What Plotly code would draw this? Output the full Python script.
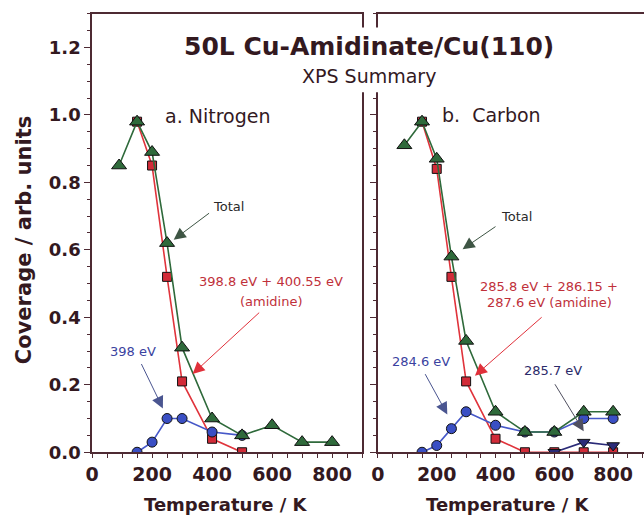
import plotly.graph_objects as go

W, H = 644, 527

# ---------------- data ----------------
# a. Nitrogen
n_total_x = [90, 150, 200, 250, 300, 400, 500, 600, 700, 800]
n_total_y = [0.85, 0.98, 0.89, 0.62, 0.31, 0.10, 0.05, 0.08, 0.03, 0.03]
n_amid_x = [150, 200, 250, 300, 400, 500]
n_amid_y = [0.98, 0.85, 0.52, 0.21, 0.04, 0.00]
n_398_x = [150, 200, 250, 300, 400, 500]
n_398_y = [0.00, 0.03, 0.10, 0.10, 0.06, 0.05]

# b. Carbon
c_total_x = [90, 150, 200, 250, 300, 400, 500, 600, 700, 800]
c_total_y = [0.91, 0.98, 0.87, 0.58, 0.33, 0.12, 0.06, 0.06, 0.12, 0.12]
c_amid_x = [150, 200, 250, 300, 400, 500, 600, 700, 800]
c_amid_y = [0.98, 0.84, 0.52, 0.21, 0.04, 0.00, 0.00, 0.00, 0.00]
c_2846_x = [150, 200, 250, 300, 400, 500, 600, 700, 800]
c_2846_y = [0.00, 0.02, 0.07, 0.12, 0.08, 0.06, 0.06, 0.10, 0.10]
c_2857_x = [600, 700, 800]
c_2857_y = [0.00, 0.03, 0.02]

x_ticks = [0, 200, 400, 600, 800]
y_ticks = [0.0, 0.2, 0.4, 0.6, 0.8, 1.0, 1.2]
y_tick_text = ["0.0", "0.2", "0.4", "0.6", "0.8", "1.0", "1.2"]

title_main = "50L Cu-Amidinate/Cu(110)"
title_sub = "XPS Summary"
x_title = "Temperature / K"
y_title = "Coverage / arb. units"

# ---------------- style ----------------
FONT = "DejaVu Sans"
AXC = "#4e2a33"
TXT = "#33191f"
GREEN, GREEN_L = "#2f6a3b", "#2f6a3b"
RED, RED_L = "#d22b38", "#e0343c"
BLUE, BLUE_L = "#3a4fc4", "#4658c8"
NAVY = "#2b2b78"


def px(x):
    return x / W


def py(y):
    return 1 - y / H


fig = go.Figure()


def add_series(x, y, xa, ya, color, lcolor, symbol, size):
    fig.add_trace(go.Scatter(
        x=x, y=y, xaxis=xa, yaxis=ya, mode="lines+markers",
        line=dict(color=lcolor, width=1.6),
        marker=dict(symbol=symbol, size=size, color=color,
                    line=dict(color="#111111", width=1)),
        showlegend=False, hoverinfo="skip"))


# Nitrogen panel
add_series(n_amid_x, n_amid_y, "x", "y", RED, RED_L, "square", 9)
add_series(n_398_x, n_398_y, "x", "y", BLUE, BLUE_L, "circle", 10)
add_series(n_total_x, n_total_y, "x", "y", GREEN, GREEN_L, "triangle-up", 13)
# Carbon panel
add_series(c_amid_x, c_amid_y, "x2", "y2", RED, RED_L, "square", 9)
add_series(c_2846_x, c_2846_y, "x2", "y2", BLUE, BLUE_L, "circle", 10)
add_series(c_2857_x, c_2857_y, "x2", "y2", NAVY, NAVY, "triangle-down", 11)
add_series(c_total_x, c_total_y, "x2", "y2", GREEN, GREEN_L, "triangle-up", 13)

ydom = [py(461), py(14)]
common_x = dict(
    tickmode="array", tickvals=x_ticks,
    ticks="outside", ticklen=4, tickwidth=1, tickcolor=AXC,
    minor=dict(dtick=50, ticks="outside", ticklen=4, tickcolor=AXC),
    showline=True, linecolor=AXC, linewidth=1.5,
    showgrid=False, zeroline=False,
    tickfont=dict(family=FONT, size=19, color=TXT, weight="bold"),
)
common_y = dict(
    range=[0, 1.3], tickmode="array", tickvals=y_ticks,
    ticks="outside", ticklen=6, tickwidth=1, tickcolor=AXC,
    minor=dict(dtick=0.05, ticks="outside", ticklen=3, tickcolor=AXC),
    showline=True, linecolor=AXC, linewidth=1.5,
    showgrid=False, zeroline=False,
    tickfont=dict(family=FONT, size=18, color=TXT, weight="bold"),
)

fig.update_layout(
    width=W, height=H,
    margin=dict(l=0, r=0, t=0, b=0),
    paper_bgcolor="white", plot_bgcolor="white",
    xaxis=dict(domain=[px(86), px(359)], range=[0, 900], anchor="y",
               mirror=True, **common_x),
    yaxis=dict(domain=ydom, anchor="x", mirror=True, ticktext=y_tick_text,
               **common_y),
    xaxis2=dict(domain=[px(375), 1.0], range=[0, 905], anchor="y2",
                mirror=True, **common_x),
    yaxis2=dict(domain=ydom, anchor="x2", showticklabels=False, **common_y),
)

ann = []

# white box hiding the frame behind the title
fig.add_shape(type="rect", xref="paper", yref="paper",
              x0=px(352), x1=px(382), y0=py(94), y1=py(28),
              fillcolor="white", line=dict(width=0), layer="above")


def ptext(x, y, text, size, color=TXT, xanchor="center", angle=0):
    ann.append(dict(xref="paper", yref="paper", x=px(x), y=py(y),
                    xanchor=xanchor, yanchor="middle", textangle=angle,
                    text=text, showarrow=False,
                    font=dict(family=FONT, size=size, color=color)))


ptext(366, 47, "<b>" + title_main + "</b>", 25)
ptext(366, 77, title_sub, 19)
ptext(158, 118, "a. Nitrogen", 19, xanchor="left")
ptext(438, 117, "b.  Carbon", 19, xanchor="left")
for cx in (221, 507):
    ptext(cx, 514, "<b>" + x_title + "</b>", 18)
ptext(18, 245, "<b>" + y_title + "</b>", 21, angle=-90)


def label(xr, yr, x, y, text, color, size=13):
    ann.append(dict(xref=xr, yref=yr, x=x, y=y, text=text, showarrow=False,
                    xanchor="center", yanchor="middle",
                    font=dict(family=FONT, size=size, color=color)))


def arrow(xr, yr, x0, y0, x1, y1, color):
    ann.append(dict(xref=xr, yref=yr, axref=xr, ayref=yr,
                    x=x1, y=y1, ax=x0, ay=y0, text="", showarrow=True,
                    arrowhead=2, arrowsize=2.4, arrowwidth=1,
                    arrowcolor=color))


TOT_C = "#3e5544"
# Nitrogen annotations
label("x", "y", 455, 0.73, "Total", "#2a2a2a")
arrow("x", "y", 395, 0.712, 272, 0.63, TOT_C)
label("x", "y", 597, 0.505, "398.8 eV + 400.55 eV", "#c0303a")
label("x", "y", 597, 0.448, "(amidine)", "#c0303a")
arrow("x", "y", 562, 0.418, 335, 0.232, "#e0303a")
label("x", "y", 138, 0.30, "398 eV", "#3a42a0")
arrow("x", "y", 162, 0.266, 236, 0.13, "#4a5590")

# Carbon annotations
label("x2", "y2", 472, 0.70, "Total", "#2a2a2a")
arrow("x2", "y2", 405, 0.672, 288, 0.602, TOT_C)
label("x2", "y2", 582, 0.49, "285.8 eV + 286.15 +", "#c0303a")
label("x2", "y2", 582, 0.443, "287.6 eV (amidine)", "#c0303a")
arrow("x2", "y2", 562, 0.404, 330, 0.227, "#e0303a")
label("x2", "y2", 145, 0.27, "284.6 eV", "#3a42a0")
arrow("x2", "y2", 158, 0.236, 236, 0.112, "#4a5590")
label("x2", "y2", 596, 0.241, "285.7 eV", "#2b2b6a")
arrow("x2", "y2", 599, 0.206, 700, 0.062, "#505060")

fig.update_layout(annotations=ann)
fig.write_html("out.html", config={"displayModeBar": False},
               post_script="document.body.style.margin='0';")
